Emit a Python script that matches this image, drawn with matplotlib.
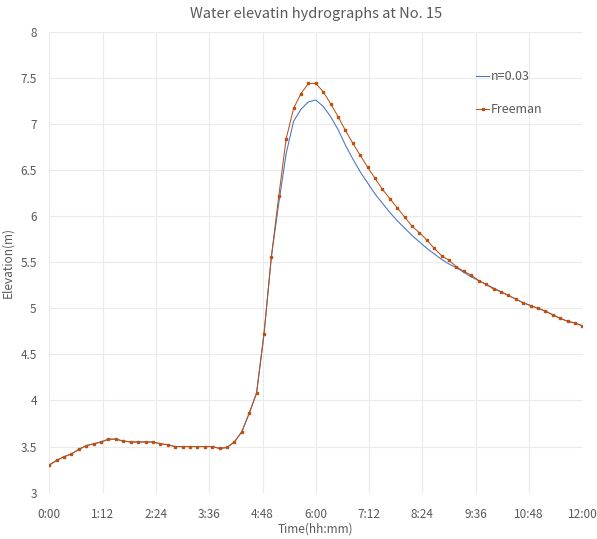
import matplotlib
matplotlib.use("Agg")
import matplotlib.pyplot as plt
from matplotlib.ticker import FuncFormatter, MultipleLocator

plt.rcParams["font.family"] = ["Noto Sans CJK KR", "DejaVu Sans"]
plt.rcParams["font.weight"] = "light"

# time in minutes from 0:00, every 10 min
minutes = list(range(0, 721, 10))

freeman = [
    3.30, 3.35, 3.39, 3.42, 3.47, 3.51, 3.53, 3.55, 3.58, 3.58,
    3.56, 3.55, 3.55, 3.55, 3.55, 3.53, 3.52, 3.50, 3.50, 3.50,
    3.50, 3.50, 3.50, 3.48, 3.49, 3.55, 3.66, 3.86, 4.08, 4.72,
    5.56, 6.22, 6.84, 7.17, 7.33, 7.44, 7.44, 7.35, 7.22, 7.08,
    6.93, 6.79, 6.66, 6.53, 6.41, 6.29, 6.19, 6.09, 5.99, 5.89,
    5.82, 5.74, 5.65, 5.57, 5.52, 5.45, 5.40, 5.36, 5.30, 5.26,
    5.21, 5.18, 5.14, 5.10, 5.06, 5.03, 5.00, 4.97, 4.93, 4.89,
    4.86, 4.84, 4.81,
]

n003 = [
    3.30, 3.35, 3.39, 3.42, 3.47, 3.51, 3.53, 3.55, 3.58, 3.58,
    3.56, 3.55, 3.55, 3.55, 3.55, 3.53, 3.52, 3.50, 3.50, 3.50,
    3.50, 3.50, 3.50, 3.48, 3.49, 3.55, 3.66, 3.86, 4.08, 4.72,
    5.56, 6.14, 6.68, 7.03, 7.16, 7.24, 7.26, 7.19, 7.08, 6.94,
    6.77, 6.62, 6.48, 6.36, 6.24, 6.14, 6.04, 5.95, 5.87, 5.79,
    5.72, 5.65, 5.59, 5.53, 5.48, 5.44, 5.39, 5.34, 5.30, 5.26,
    5.22, 5.18, 5.14, 5.10, 5.06, 5.03, 5.00, 4.97, 4.93, 4.89,
    4.86, 4.84, 4.81,
]

GRAY = "#595959"

fig = plt.figure(figsize=(5.97, 5.39), dpi=100)
ax = fig.add_axes([0.0825, 0.086, 0.893, 0.855])

ax.plot(minutes, n003, color="#4472C4", linewidth=0.75, label="n=0.03")
ax.plot(minutes, freeman, color="#B5541A", linewidth=0.75, marker="s",
        markersize=2.0, markerfacecolor="#C0500F", markeredgecolor="#C0500F",
        label="Freeman")

ax.set_xlim(0, 720)
ax.set_ylim(3, 8)
ax.xaxis.set_major_locator(MultipleLocator(72))
ax.yaxis.set_major_locator(MultipleLocator(0.5))
ax.xaxis.set_major_formatter(FuncFormatter(lambda v, p: f"{int(v) // 60}:{int(v) % 60:02d}"))
ax.yaxis.set_major_formatter(FuncFormatter(lambda v, p: f"{v:g}"))

ax.grid(True, color="#EAEAEA", linewidth=0.8)
ax.set_axisbelow(True)
for s in ax.spines.values():
    s.set_visible(False)
ax.tick_params(length=0, colors=GRAY, labelsize=8.5)
ax.tick_params(axis="x", pad=11)
ax.tick_params(axis="y", pad=9)

ax.set_title("Water elevatin hydrographs at No. 15", color=GRAY, fontsize=10.5, pad=10)
ax.set_xlabel("Time(hh:mm)", color=GRAY, fontsize=8.5, labelpad=1)
ax.set_ylabel("Elevation(m)", color=GRAY, fontsize=8.5, labelpad=4)

leg = ax.legend(loc="upper left", bbox_to_anchor=(0.779, 0.891), bbox_transform=fig.transFigure,
                frameon=False, fontsize=9, handlelength=1.0, handletextpad=0.15,
                labelspacing=1.6)
for t in leg.get_texts():
    t.set_color(GRAY)

fig.savefig("out.png", dpi=100)
